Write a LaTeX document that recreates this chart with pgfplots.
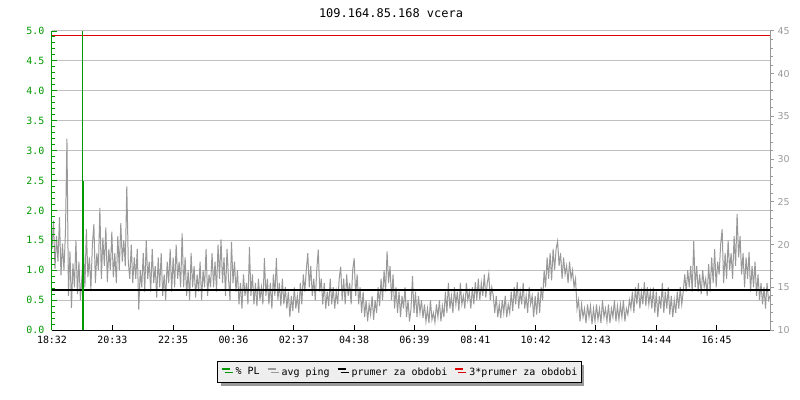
\documentclass[border=0pt]{standalone}
\usepackage{fontspec}
\setmainfont{DejaVu Sans}
\setmonofont{DejaVu Sans Mono}
\usepackage{pgfplots}
\pgfplotsset{compat=1.18}
\usetikzlibrary{shadows}
\definecolor{plgreen}{HTML}{009900}
\definecolor{pinggray}{HTML}{999999}
\definecolor{gridgray}{HTML}{C0C0C0}
\definecolor{avgred}{HTML}{DD0000}
\definecolor{legbg}{HTML}{EEEEEE}
\newcommand\tickfont{\fontsize{10}{12}\selectfont\ttfamily}

\begin{document}
\begin{tikzpicture}
% right axis in ms: grid, ping and the two average lines
\begin{axis}[
    scale only axis, width=718bp, height=299bp,
    xmin=0, xmax=1440, ymin=10, ymax=45,
    axis x line=none, axis y line*=right,
    y axis line style={pinggray, line width=1bp},
    ytick={10,15,20,25,30,35,40,45}, minor y tick num=4,
    tick align=outside, major tick length=4bp, minor tick length=3bp,
    ytick style={pinggray, line width=1bp},
    yticklabel style={pinggray, font=\fontsize{9.5}{11}\selectfont,
        /pgf/number format/assume math mode=true},
    extra y ticks={13.5,17,20.5,24,27.5,31,34.5,38,41.5,45},
    extra y tick labels={},
    extra y tick style={grid=major, tick style={draw=none}},
    major grid style={gridgray, line width=1bp},
]
% avg ping, one reading every 3 minutes
\addplot[pinggray, line width=1bp] coordinates {
(0,19.5)(3,22.8)(6,17.2)(9,21.0)(12,18.0)(15,23.2)(18,16.4)(21,20.1)(24,17.0)(27,21.5)
(30,32.4)(33,14.0)(36,19.2)(39,12.6)(42,17.8)(45,15.0)(48,20.5)(51,14.2)(54,18.0)(57,13.5)(60,16.2)
(63,19.5)(66,15.0)(69,21.8)(72,16.2)(75,18.5)(78,14.8)(81,20.0)(84,22.4)(87,15.5)(90,19.0)(93,17.0)(96,24.3)
(99,16.0)(102,20.8)(105,17.5)(108,22.0)(111,15.6)(114,19.5)(117,17.0)(120,21.5)(123,16.2)(126,19.0)(129,15.5)
(132,21.0)(135,17.0)(138,22.5)(141,18.0)(144,20.5)(147,17.5)(150,26.8)(153,18.0)(156,16.0)
(159,20.0)(162,15.5)(165,18.5)(168,16.0)(171,19.5)(174,12.4)(177,17.0)(180,15.0)(183,19.0)(186,14.5)(189,20.5)(192,16.0)(195,18.0)
(198,14.5)(201,19.5)(204,15.5)(207,17.5)(210,13.8)(213,18.5)(216,15.0)(219,19.0)(222,14.0)(225,16.5)(228,13.5)(231,18.0)(234,15.5)(237,19.5)(240,14.5)
(243,18.5)(246,15.0)(249,20.0)(252,16.0)(255,18.0)(258,15.0)(261,21.3)
(264,15.0)(267,18.5)(270,14.0)(273,17.0)(276,13.5)(279,19.0)(282,15.0)(285,17.5)(288,13.8)(291,16.5)(294,14.5)(297,18.0)(300,13.5)(303,17.0)(306,15.0)(309,19.5)(312,14.0)(315,16.5)(318,15.0)
(321,19.0)(324,15.0)(327,18.0)(330,14.5)(333,20.0)(336,16.0)(339,20.6)(342,15.5)(345,18.5)(348,14.0)(351,19.5)(354,16.0)(357,13.5)(360,20.3)(363,15.5)(366,18.0)(369,14.5)
(372,17.0)(375,13.0)(378,15.5)(381,12.5)(384,16.5)(387,14.0)(390,15.5)(393,13.0)(396,19.7)(399,14.0)(402,16.5)(405,13.0)(408,15.5)
(411,12.8)(414,16.0)(417,13.5)(420,15.0)(423,13.0)(426,18.4)(429,14.0)(432,16.0)(435,13.0)(438,15.5)(441,12.5)(444,16.5)(447,14.0)(450,18.4)(453,13.5)(456,15.5)(459,12.8)(462,16.0)(465,13.0)(468,15.0)(471,12.5)(474,14.5)(477,11.5)(480,14.0)
(483,12.2)(486,15.0)(489,12.5)(492,14.0)(495,12.0)
(498,15.5)(501,13.0)(504,16.5)(507,14.5)(510,17.0)(513,19.0)(516,15.0)(519,17.5)(522,14.0)(525,16.0)(528,13.5)(531,17.0)(534,19.4)(537,14.5)(540,16.0)(543,13.0)
(546,15.5)(549,12.5)(552,14.5)(555,12.8)(558,16.0)(561,13.0)(564,15.0)(567,12.5)(570,14.5)(573,13.0)(576,16.0)
(579,17.4)(582,13.5)(585,16.0)(588,13.0)(591,16.5)(594,14.0)(597,15.5)(600,13.0)(603,17.0)(606,18.4)(609,14.0)(612,16.5)(615,13.0)(618,15.0)
(621,12.0)(624,14.5)(627,11.5)(630,13.5)(633,11.0)(636,13.0)(639,11.8)(642,14.0)(645,11.2)(648,13.5)(651,12.0)
(654,15.0)(657,12.8)(660,16.0)(663,13.5)(666,17.0)(669,14.5)(672,19.2)(675,15.5)(678,17.5)(681,13.5)(684,16.5)
(687,12.5)(690,15.0)(693,12.0)(696,14.5)(699,11.5)(702,14.0)(705,12.5)(708,15.0)(711,11.5)(714,13.5)(717,11.0)(720,12.5)
(723,16.3)(726,12.0)(729,14.5)(732,11.5)(735,14.0)(738,12.0)(741,13.5)(744,11.4)
(747,13.0)(750,11.0)(753,12.5)(756,10.8)(759,13.5)(762,11.2)(765,12.0)(768,10.9)(771,13.0)(774,11.5)(777,13.5)(780,11.0)(783,12.8)(786,11.5)
(789,14.5)(792,12.0)(795,15.5)(798,12.5)(801,14.0)(804,12.0)(807,15.0)(810,13.0)(813,14.5)(816,12.2)(819,15.5)(822,13.0)(825,14.0)(828,12.5)(831,15.5)(834,13.5)(837,14.5)(840,12.5)(843,15.0)(846,13.0)(849,15.6)(852,13.5)
(855,16.0)(858,13.5)(861,15.5)(864,14.0)(867,16.5)(870,13.8)(873,15.5)(876,16.6)(879,13.5)(882,15.0)(885,14.0)
(888,12.0)(891,14.0)(894,11.5)(897,13.0)(900,11.4)(903,13.5)(906,12.0)(909,14.0)(912,11.5)(915,13.0)(918,12.0)
(921,14.5)(924,12.2)(927,15.0)(930,13.0)(933,15.6)(936,12.5)(939,14.5)(942,13.0)(945,15.5)(948,12.5)(951,14.0)(954,12.0)(957,15.0)(960,13.0)(963,14.0)
(966,11.5)(969,14.0)(972,11.8)(975,14.5)(978,12.0)(981,15.0)(984,13.5)
(987,17.0)(990,15.0)(993,18.5)(996,16.0)(999,19.0)(1002,15.8)(1005,19.5)(1008,17.0)(1011,19.5)(1014,20.4)(1017,17.5)
(1020,19.0)(1023,16.0)(1026,18.5)(1029,16.5)(1032,17.5)(1035,15.5)(1038,18.0)(1041,16.0)(1044,17.0)(1047,15.0)(1050,16.0)
(1053,12.5)(1056,13.5)(1059,11.0)(1062,13.0)(1065,11.5)(1068,12.5)(1071,10.8)(1074,13.0)(1077,11.5)(1080,12.8)(1083,10.7)(1086,12.5)(1089,11.0)(1092,13.0)
(1095,11.2)(1098,12.5)(1101,10.8)(1104,13.5)(1107,11.5)(1110,12.5)(1113,11.0)(1116,13.0)(1119,10.8)(1122,12.5)(1125,11.5)(1128,13.5)(1131,11.0)(1134,12.8)(1137,11.2)(1140,13.0)(1143,11.5)(1146,13.5)(1149,11.0)(1152,12.5)(1155,11.8)(1158,13.5)
(1161,12.5)(1164,14.5)(1167,12.0)(1170,15.0)(1173,13.0)(1176,15.5)(1179,12.5)(1182,14.5)(1185,13.0)(1188,15.6)(1191,12.8)(1194,15.0)(1197,13.0)(1200,14.5)(1203,12.5)
(1206,15.0)(1209,12.0)(1212,14.5)(1215,11.5)(1218,14.0)(1221,12.5)(1224,15.5)(1227,12.0)(1230,14.5)(1233,12.5)(1236,15.0)(1239,11.8)(1242,14.0)(1245,11.5)(1248,13.5)(1251,12.0)(1254,14.5)(1257,12.5)(1260,15.0)(1263,13.0)(1266,14.5)
(1269,16.5)(1272,14.5)(1275,17.0)(1278,15.0)(1281,17.5)(1284,14.5)(1287,20.4)
(1290,15.0)(1293,17.5)(1296,14.5)(1299,16.5)(1302,14.2)(1305,17.0)(1308,15.0)(1311,16.0)(1314,14.0)(1317,17.7)
(1320,14.5)(1323,18.5)(1326,15.5)(1329,19.5)(1332,15.0)(1335,18.0)(1338,16.5)(1341,20.0)(1344,21.8)(1347,15.5)(1350,19.0)(1353,16.0)(1356,20.5)(1359,17.0)(1362,19.0)(1365,16.0)
(1368,21.0)(1371,17.5)(1374,23.6)(1377,18.5)(1380,21.0)
(1383,16.5)(1386,19.0)(1389,15.0)(1392,18.5)(1395,16.0)(1398,19.1)(1401,14.5)(1404,17.5)(1407,15.0)(1410,18.0)(1413,14.0)(1416,16.5)(1419,13.5)
(1422,15.5)(1425,13.0)(1428,15.0)(1431,12.5)(1434,15.5)(1437,13.5)(1440,14.0)
};
\addplot[black, line width=2bp] coordinates {(0,14.7)(1440,14.7)};
\addplot[avgred, line width=1.2bp] coordinates {(0,44.5)(1440,44.5)};
\end{axis}

% left axis in percent: packet loss, time axis and legend
\begin{axis}[
    scale only axis, width=718bp, height=299bp,
    xmin=0, xmax=1440, ymin=0, ymax=5,
    axis x line*=bottom, axis y line*=left,
    x axis line style={black, line width=1bp},
    y axis line style={plgreen, line width=1bp},
    xtick={0,121,243,364,485,606,727,849,970,1091,1212,1333},
    xticklabels={18:32,20:33,22:35,00:36,02:37,04:38,06:39,08:41,10:42,12:43,14:44,16:45},
    ytick={0,0.5,1,1.5,2,2.5,3,3.5,4,4.5,5}, minor y tick num=4,
    tick align=inside, major tick length=5bp, minor tick length=3bp,
    xtick style={black, line width=1bp},
    ytick style={plgreen, line width=1bp},
    xticklabel style={font=\tickfont, yshift=-3bp},
    yticklabel style={font=\tickfont, text=plgreen, xshift=-4bp,
        /pgf/number format/.cd, fixed, fixed zerofill, precision=1,
        assume math mode=true},
    legend columns=4,
    legend image code/.code={\draw[#1, line width=2bp] (0bp,3bp) -- (8bp,3bp);},
    legend style={at={(0.484,-0.1037)}, anchor=north, draw=black,
        line width=1bp, fill=legbg, inner xsep=3bp, inner ysep=4bp,
        font=\fontsize{10}{12}\selectfont\ttfamily,
        nodes={inner xsep=1bp},
        drop shadow={shadow xshift=3bp, shadow yshift=-3bp, fill=gray!80, opacity=1},
        /tikz/every even column/.append style={column sep=6bp}},
]
\addplot[plgreen, line width=1bp, ycomb, forget plot] coordinates {(61,5)};
\addplot[plgreen, line width=2bp, ycomb, forget plot] coordinates {(62.5,2.5)};
\addlegendimage{plgreen}
\addlegendentry{\hspace{4bp}\% PL}
\addlegendimage{pinggray}
\addlegendentry{\hspace{4bp}avg ping}
\addlegendimage{black}
\addlegendentry{\hspace{4bp}prumer za obdobi}
\addlegendimage{avgred}
\addlegendentry{\hspace{4bp}3*prumer za obdobi}
\end{axis}

\node[font=\fontsize{12}{14}\selectfont\ttfamily] at (339bp,317bp) {109.164.85.168 vcera};
\path[use as bounding box] (-52bp,-70bp) rectangle (748bp,330bp);
\end{tikzpicture}
\end{document}
